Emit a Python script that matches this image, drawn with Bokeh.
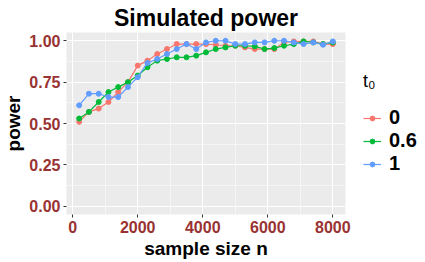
from bokeh.plotting import figure
from bokeh.models import Range1d, FixedTicker, Legend, LegendItem, NumeralTickFormatter
from bokeh.embed import file_html
from bokeh.resources import INLINE

sample_size = [200, 500, 800, 1100, 1400, 1700, 2000, 2300, 2600, 2900, 3200, 3500, 3800,
               4100, 4400, 4700, 5000, 5300, 5600, 5900, 6200, 6500, 6800, 7100, 7400, 7700, 8000]
power_t0_0 = [0.51, 0.57, 0.59, 0.63, 0.69, 0.75, 0.85, 0.88, 0.92, 0.95, 0.98, 0.98, 0.98,
              0.98, 0.976, 0.97, 0.97, 0.96, 0.95, 0.95, 0.95, 0.99, 0.996, 0.996, 0.996, 0.98, 0.98]
power_t0_06 = [0.53, 0.57, 0.63, 0.69, 0.72, 0.75, 0.79, 0.84, 0.88, 0.89, 0.90, 0.90, 0.91,
               0.93, 0.95, 0.96, 0.97, 0.97, 0.966, 0.95, 0.956, 0.97, 0.98, 0.996, 0.99, 0.98, 0.99]
power_t0_1 = [0.61, 0.68, 0.68, 0.66, 0.66, 0.72, 0.78, 0.866, 0.89, 0.92, 0.95, 0.98, 0.95,
              0.99, 1.0, 1.0, 0.98, 0.98, 0.99, 0.99, 1.0, 1.0, 0.99, 0.98, 0.99, 0.976, 0.996]
series_labels = ["0", "0.6", "1"]
series_colors = ["#F8766D", "#00BA38", "#619CFF"]
x_ticks = [0, 2000, 4000, 6000, 8000]
x_minor = [1000, 3000, 5000, 7000]
y_ticks = [0, 0.25, 0.5, 0.75, 1.0]
y_minor = [0.125, 0.375, 0.625, 0.875]

FONT = "Liberation Sans"
TICK_COLOR = "#993333"

p = figure(width=409, height=250, frame_width=279, frame_height=182,
           output_backend="svg", toolbar_location=None,
           x_range=Range1d(-190, 8390), y_range=Range1d(-0.05, 1.05),
           title="Simulated power", min_border_left=0, min_border_right=0,
           min_border_top=0, min_border_bottom=0)
p.background_fill_color = "#EBEBEB"
p.border_fill_color = "white"
p.outline_line_color = None

p.title.text_font = FONT
p.title.text_font_size = "23px"
p.title.text_font_style = "bold"
p.title.align = "center"
p.title.text_color = "black"
p.title.standoff = 4
p.title.offset = 0

p.xaxis.ticker = FixedTicker(ticks=x_ticks, minor_ticks=x_minor)
p.yaxis.ticker = FixedTicker(ticks=y_ticks, minor_ticks=y_minor)
p.yaxis.formatter = NumeralTickFormatter(format="0.00")

for ax in (p.xaxis, p.yaxis):
    ax.axis_line_color = None
    ax.major_tick_line_color = "#333333"
    ax.major_tick_in = 0
    ax.major_tick_out = 3
    ax.minor_tick_line_color = None
    ax.major_label_text_font = FONT
    ax.major_label_text_font_size = "16px"
    ax.major_label_text_font_style = "bold"
    ax.major_label_text_color = TICK_COLOR
    ax.major_label_standoff = 2
    ax.axis_label_text_font = FONT
    ax.axis_label_text_font_size = "19px"
    ax.axis_label_text_font_style = "bold"
    ax.axis_label_text_color = "black"
    ax.axis_label_standoff = 2

p.xaxis.axis_label = "sample size n"
p.yaxis.axis_label = "power"

for g in (p.xgrid, p.ygrid):
    g.grid_line_color = "white"
    g.grid_line_width = 1.1
    g.minor_grid_line_color = "white"
    g.minor_grid_line_width = 0.5

items = []
for vals, lab, col in zip([power_t0_0, power_t0_06, power_t0_1], series_labels, series_colors):
    r1 = p.line(sample_size, vals, line_color=col, line_width=1.2)
    r2 = p.scatter(sample_size, vals, fill_color=col, line_color=col, size=5)
    items.append(LegendItem(label=lab, renderers=[r1, r2]))

legend = Legend(items=items, title="t₀", location="left")
legend.title_text_font = FONT
legend.title_text_font_size = "18px"
legend.title_text_font_style = "normal"
legend.title_text_color = "black"
legend.title_standoff = 14
legend.label_text_font = FONT
legend.label_text_font_size = "20px"
legend.label_text_font_style = "bold"
legend.label_text_color = "black"
legend.glyph_width = 18
legend.glyph_height = 12
legend.label_height = 18
legend.spacing = 0
legend.label_standoff = 8
legend.border_line_color = None
legend.background_fill_alpha = 0
legend.padding = 4
legend.margin = 18
p.add_layout(legend, "right")

open("out.html", "w").write(file_html(p, INLINE))
